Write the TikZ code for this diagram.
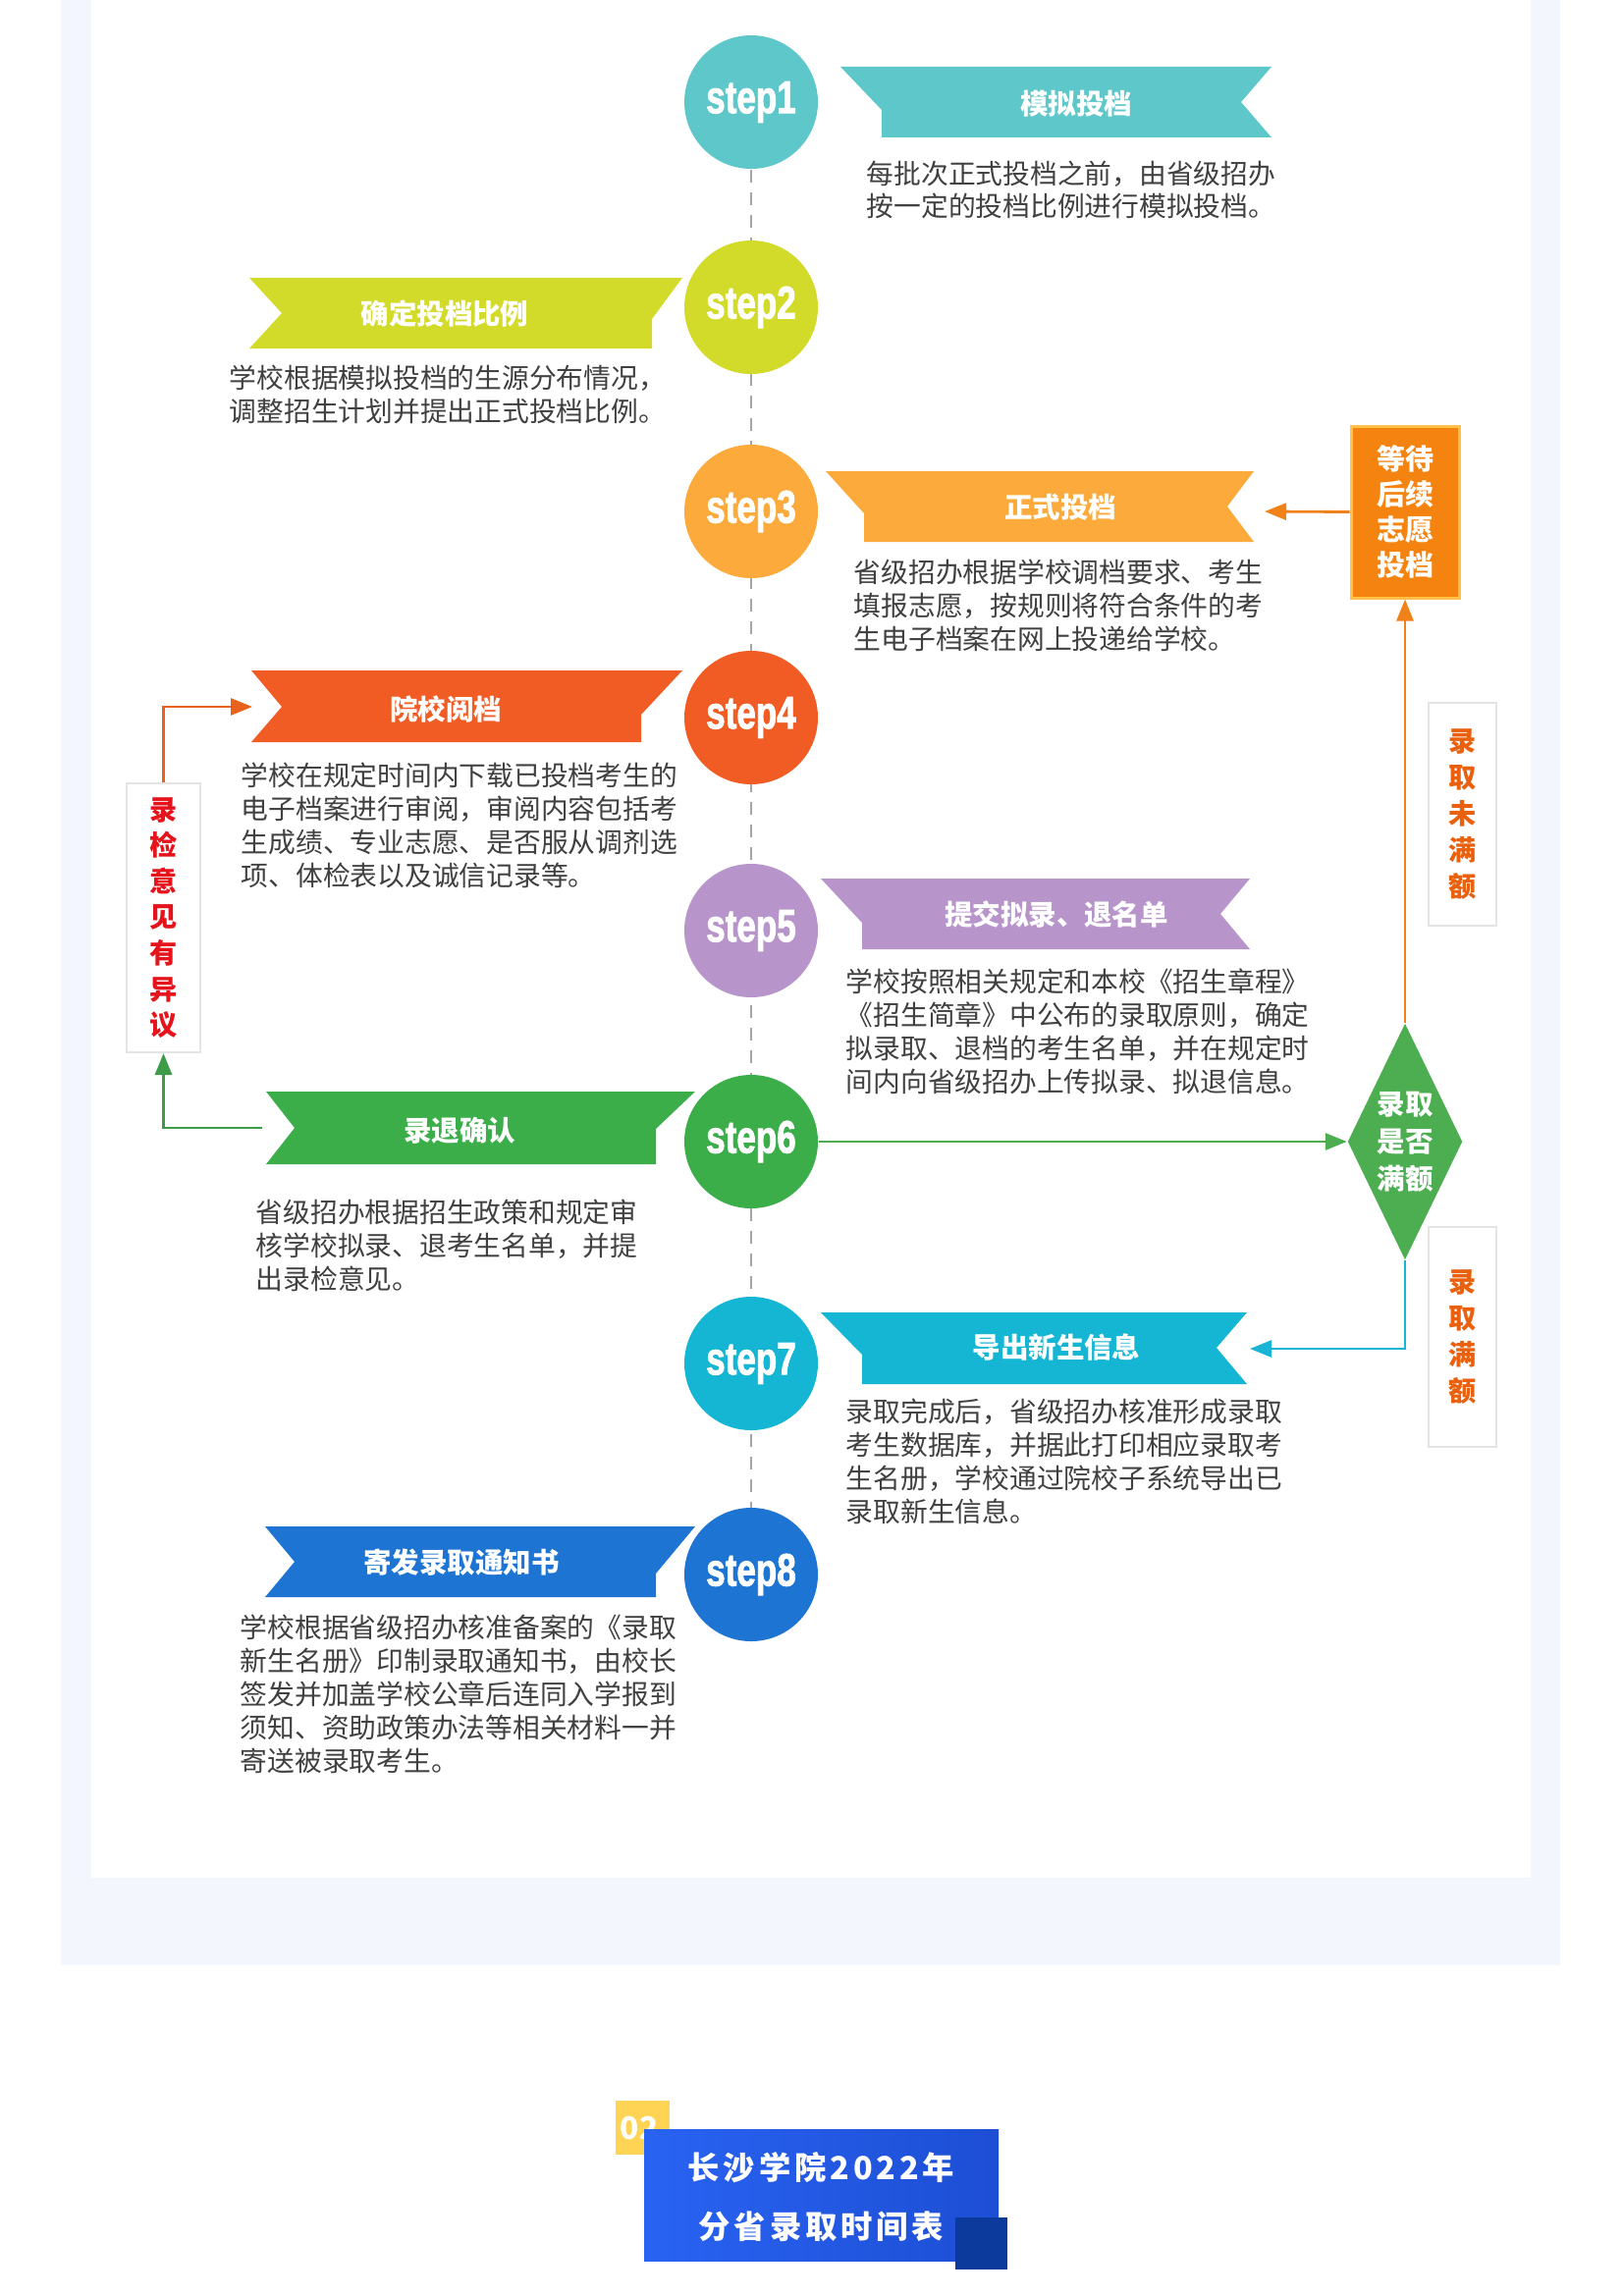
\documentclass[tikz,border=0pt]{standalone}
\usepackage{fontspec}
\usepackage{graphicx}
\usetikzlibrary{arrows.meta,shapes.geometric}
\setmainfont{Noto Sans CJK SC}
\newfontfamily\stepfont{Liberation Sans Bold}[FakeBold=2]
\newfontfamily\titlefont{Noto Sans CJK SC}[LetterSpace=12]
\definecolor{cA}{HTML}{5EC7CA}
\definecolor{cB}{HTML}{D3DB2A}
\definecolor{cC}{HTML}{FBAA3B}
\definecolor{cD}{HTML}{F15B24}
\definecolor{cE}{HTML}{B795CB}
\definecolor{cF}{HTML}{3BAE4A}
\definecolor{cG}{HTML}{14B6D3}
\definecolor{cH}{HTML}{1E74D3}
\definecolor{txt}{HTML}{404040}
\definecolor{panel}{HTML}{F3F7FD}
\definecolor{waitfill}{HTML}{F5830F}
\definecolor{waitline}{HTML}{FFC14A}
\definecolor{diag}{HTML}{4CAE50}
\definecolor{arrO}{HTML}{F08219}
\definecolor{arrC}{HTML}{1AB4D6}
\definecolor{arrLO}{HTML}{E8621B}
\definecolor{arrLG}{HTML}{3E9B47}
\definecolor{lblO}{HTML}{E9600E}
\definecolor{lblR}{HTML}{E5131C}
\definecolor{lblBorder}{HTML}{E4E4E4}
\definecolor{titleL}{HTML}{2963F2}
\definecolor{titleR}{HTML}{1D4ED4}
\definecolor{navy}{HTML}{0B3A9C}
\definecolor{yel}{HTML}{FFD454}
\definecolor{dashcol}{HTML}{A5A5A5}
\tikzset{
  stepcircle/.style={circle, minimum size=13.6mm, inner sep=0pt, text=white,
    font=\stepfont\fontsize{13.3}{13.3}\selectfont},
  desc/.style={anchor=base west, align=left, inner sep=0pt, text=txt,
    font=\fontsize{7.9}{9.67}\selectfont},
  btitle/.style={text=white, inner sep=0pt, font=\bfseries\fontsize{8.1}{8.1}\selectfont},
  arr/.style={line width=0.28mm, -{Triangle[length=2.2mm,width=1.7mm]}},
  lblbox/.style={draw=lblBorder, line width=0.2mm, fill=white, inner sep=0pt,
    align=center, font=\bfseries\fontsize{8}{10.5}\selectfont},
}
\begin{document}
\begin{tikzpicture}[x=0.1mm,y=-0.1mm]
\useasboundingbox (0,0) rectangle (1653,2339);
\fill[white] (0,0) rectangle (1653,2339);
\fill[panel] (62,0) rectangle (1589,2002);
\fill[white] (93,0) rectangle (1559,1913);

% centre line
\coordinate (c1) at (765,104);
\coordinate (c2) at (765,313);
\coordinate (c3) at (765,521);
\coordinate (c4) at (765,731);
\coordinate (c5) at (765,948);
\coordinate (c6) at (765,1163);
\coordinate (c7) at (765,1389);
\coordinate (c8) at (765,1604);
\draw[dashcol, line width=0.2mm, dash pattern=on 1.3mm off 1mm] (c1) -- (c8);

% banners
\fill[cA] (856,68) -- (898,112) -- (898,140) -- (1295,140) -- (1264,104) -- (1295,68) -- cycle;
\fill[cC] (841,480) -- (880,523) -- (880,552) -- (1277,552) -- (1250,516) -- (1277,480) -- cycle;
\fill[cE] (836,895) -- (878,940) -- (878,967) -- (1273,967) -- (1243,931) -- (1273,895) -- cycle;
\fill[cG] (836,1337) -- (878,1380) -- (878,1410) -- (1270,1410) -- (1239,1373) -- (1270,1337) -- cycle;
\fill[cB] (254,283) -- (695,283) -- (664,325) -- (664,355) -- (254,355) -- (287,319) -- cycle;
\fill[cD] (256,683) -- (695,683) -- (653,728) -- (653,756) -- (256,756) -- (287,720) -- cycle;
\fill[cF] (271,1112) -- (708,1112) -- (668,1150) -- (668,1186) -- (271,1186) -- (300,1149) -- cycle;
\fill[cH] (270,1555) -- (708,1555) -- (668,1603) -- (668,1627) -- (270,1627) -- (300,1591) -- cycle;

\coordinate (b3tip) at (1288,521);
\coordinate (b7tip) at (1273,1374);
\coordinate (b4tip) at (257,720);
\coordinate (b6tail) at (267,1149);

% banner titles
\node[btitle] (t1) at (1096,106) {模拟投档};
\node[btitle] (t2) at (453,320) {确定投档比例};
\node[btitle] (t3) at (1080,517) {正式投档};
\node[btitle] (t4) at (454,722) {院校阅档};
\node[btitle] (t5) at (1076,932) {提交拟录、退名单};
\node[btitle] (t6) at (468,1152) {录退确认};
\node[btitle] (t7) at (1076,1373) {导出新生信息};
\node[btitle] (t8) at (470,1592) {寄发录取通知书};

% step circles
\node[stepcircle, fill=cA] (s1) at (c1) {\scalebox{0.75}[1]{step1}};
\node[stepcircle, fill=cB] (s2) at (c2) {\scalebox{0.75}[1]{step2}};
\node[stepcircle, fill=cC] (s3) at (c3) {\scalebox{0.75}[1]{step3}};
\node[stepcircle, fill=cD] (s4) at (c4) {\scalebox{0.75}[1]{step4}};
\node[stepcircle, fill=cE] (s5) at (c5) {\scalebox{0.75}[1]{step5}};
\node[stepcircle, fill=cF] (s6) at (c6) {\scalebox{0.75}[1]{step6}};
\node[stepcircle, fill=cG] (s7) at (c7) {\scalebox{0.75}[1]{step7}};
\node[stepcircle, fill=cH] (s8) at (c8) {\scalebox{0.75}[1]{step8}};

% descriptions (anchor = baseline of last line)
\node[desc] (d1) at (882,221) {每批次正式投档之前，由省级招办\\按一定的投档比例进行模拟投档。};
\node[desc] (d2) at (233,429) {学校根据模拟投档的生源分布情况，\\调整招生计划并提出正式投档比例。};
\node[desc] (d3) at (869,661) {省级招办根据学校调档要求、考生\\填报志愿，按规则将符合条件的考\\生电子档案在网上投递给学校。};
\node[desc] (d4) at (245,902) {学校在规定时间内下载已投档考生的\\电子档案进行审阅，审阅内容包括考\\生成绩、专业志愿、是否服从调剂选\\项、体检表以及诚信记录等。};
\node[desc] (d5) at (861,1112) {学校按照相关规定和本校《招生章程》\\《招生简章》中公布的录取原则，确定\\拟录取、退档的考生名单，并在规定时\\间内向省级招办上传拟录、拟退信息。};
\node[desc] (d6) at (260,1313) {省级招办根据招生政策和规定审\\核学校拟录、退考生名单，并提\\出录检意见。};
\node[desc] (d7) at (861,1550) {录取完成后，省级招办核准形成录取\\考生数据库，并据此打印相应录取考\\生名册，学校通过院校子系统导出已\\录取新生信息。};
\node[desc] (d8) at (244,1804) {学校根据省级招办核准备案的《录取\\新生名册》印制录取通知书，由校长\\签发并加盖学校公章后连同入学报到\\须知、资助政策办法等相关材料一并\\寄送被录取考生。};

% right side flow
\node[draw=waitline, line width=0.3mm, fill=waitfill, minimum width=11mm, minimum height=17.5mm,
  inner sep=0pt, text=white, align=center, font=\bfseries\fontsize{8.25}{10.2}\selectfont]
  (wait) at (1431,521.5) {等待\\后续\\志愿\\投档};
\node[diamond, fill=diag, minimum width=11.7mm, minimum height=24.1mm, aspect=0.5, inner sep=0pt,
  text=white, align=center, font=\bfseries\fontsize{8.1}{10.8}\selectfont]
  (dia) at (1431,1163) {录取\\是否\\满额};
\node[lblbox, text=lblO, minimum width=6.9mm, minimum height=22.7mm] (r1) at (1489.5,829.5) {录\\取\\未\\满\\额};
\node[lblbox, text=lblO, minimum width=6.9mm, minimum height=22.4mm] (r2) at (1489.5,1362) {录\\取\\满\\额};

\draw[arr, arrO] (wait.west) -- (b3tip);
\draw[arr, arrO] (dia.north) -- (wait.south);
\draw[arr, diag] (s6.east) -- (dia.west);
\draw[arr, arrC] (dia.south) |- (b7tip);

% left side flow
\node[lblbox, text=lblR, minimum width=7.5mm, minimum height=27.4mm,
  font=\bfseries\fontsize{8}{10.4}\selectfont] (lbox) at (166.5,935) {录\\检\\意\\见\\有\\异\\议};
\draw[arr, arrLO] (lbox.north) |- (b4tip);
\draw[arr, arrLG] (b6tail) -| (lbox.south);

% bottom title block
\fill[yel] (627,2140) rectangle (681.5,2195);
\node[text=white, inner sep=0pt, font=\bfseries\fontsize{9}{9}\selectfont] (num) at (651,2168) {02};
\shade[left color=titleL, right color=titleR] (656,2169) rectangle (1017,2303);
\fill[navy] (973,2259) rectangle (1026,2312);
\node[text=white, inner sep=0pt, align=center, font=\titlefont\bfseries\fontsize{9.2}{17}\selectfont]
  (title) at (836.5,2238) {长沙学院2022年\\分省录取时间表};
\end{tikzpicture}
\end{document}
